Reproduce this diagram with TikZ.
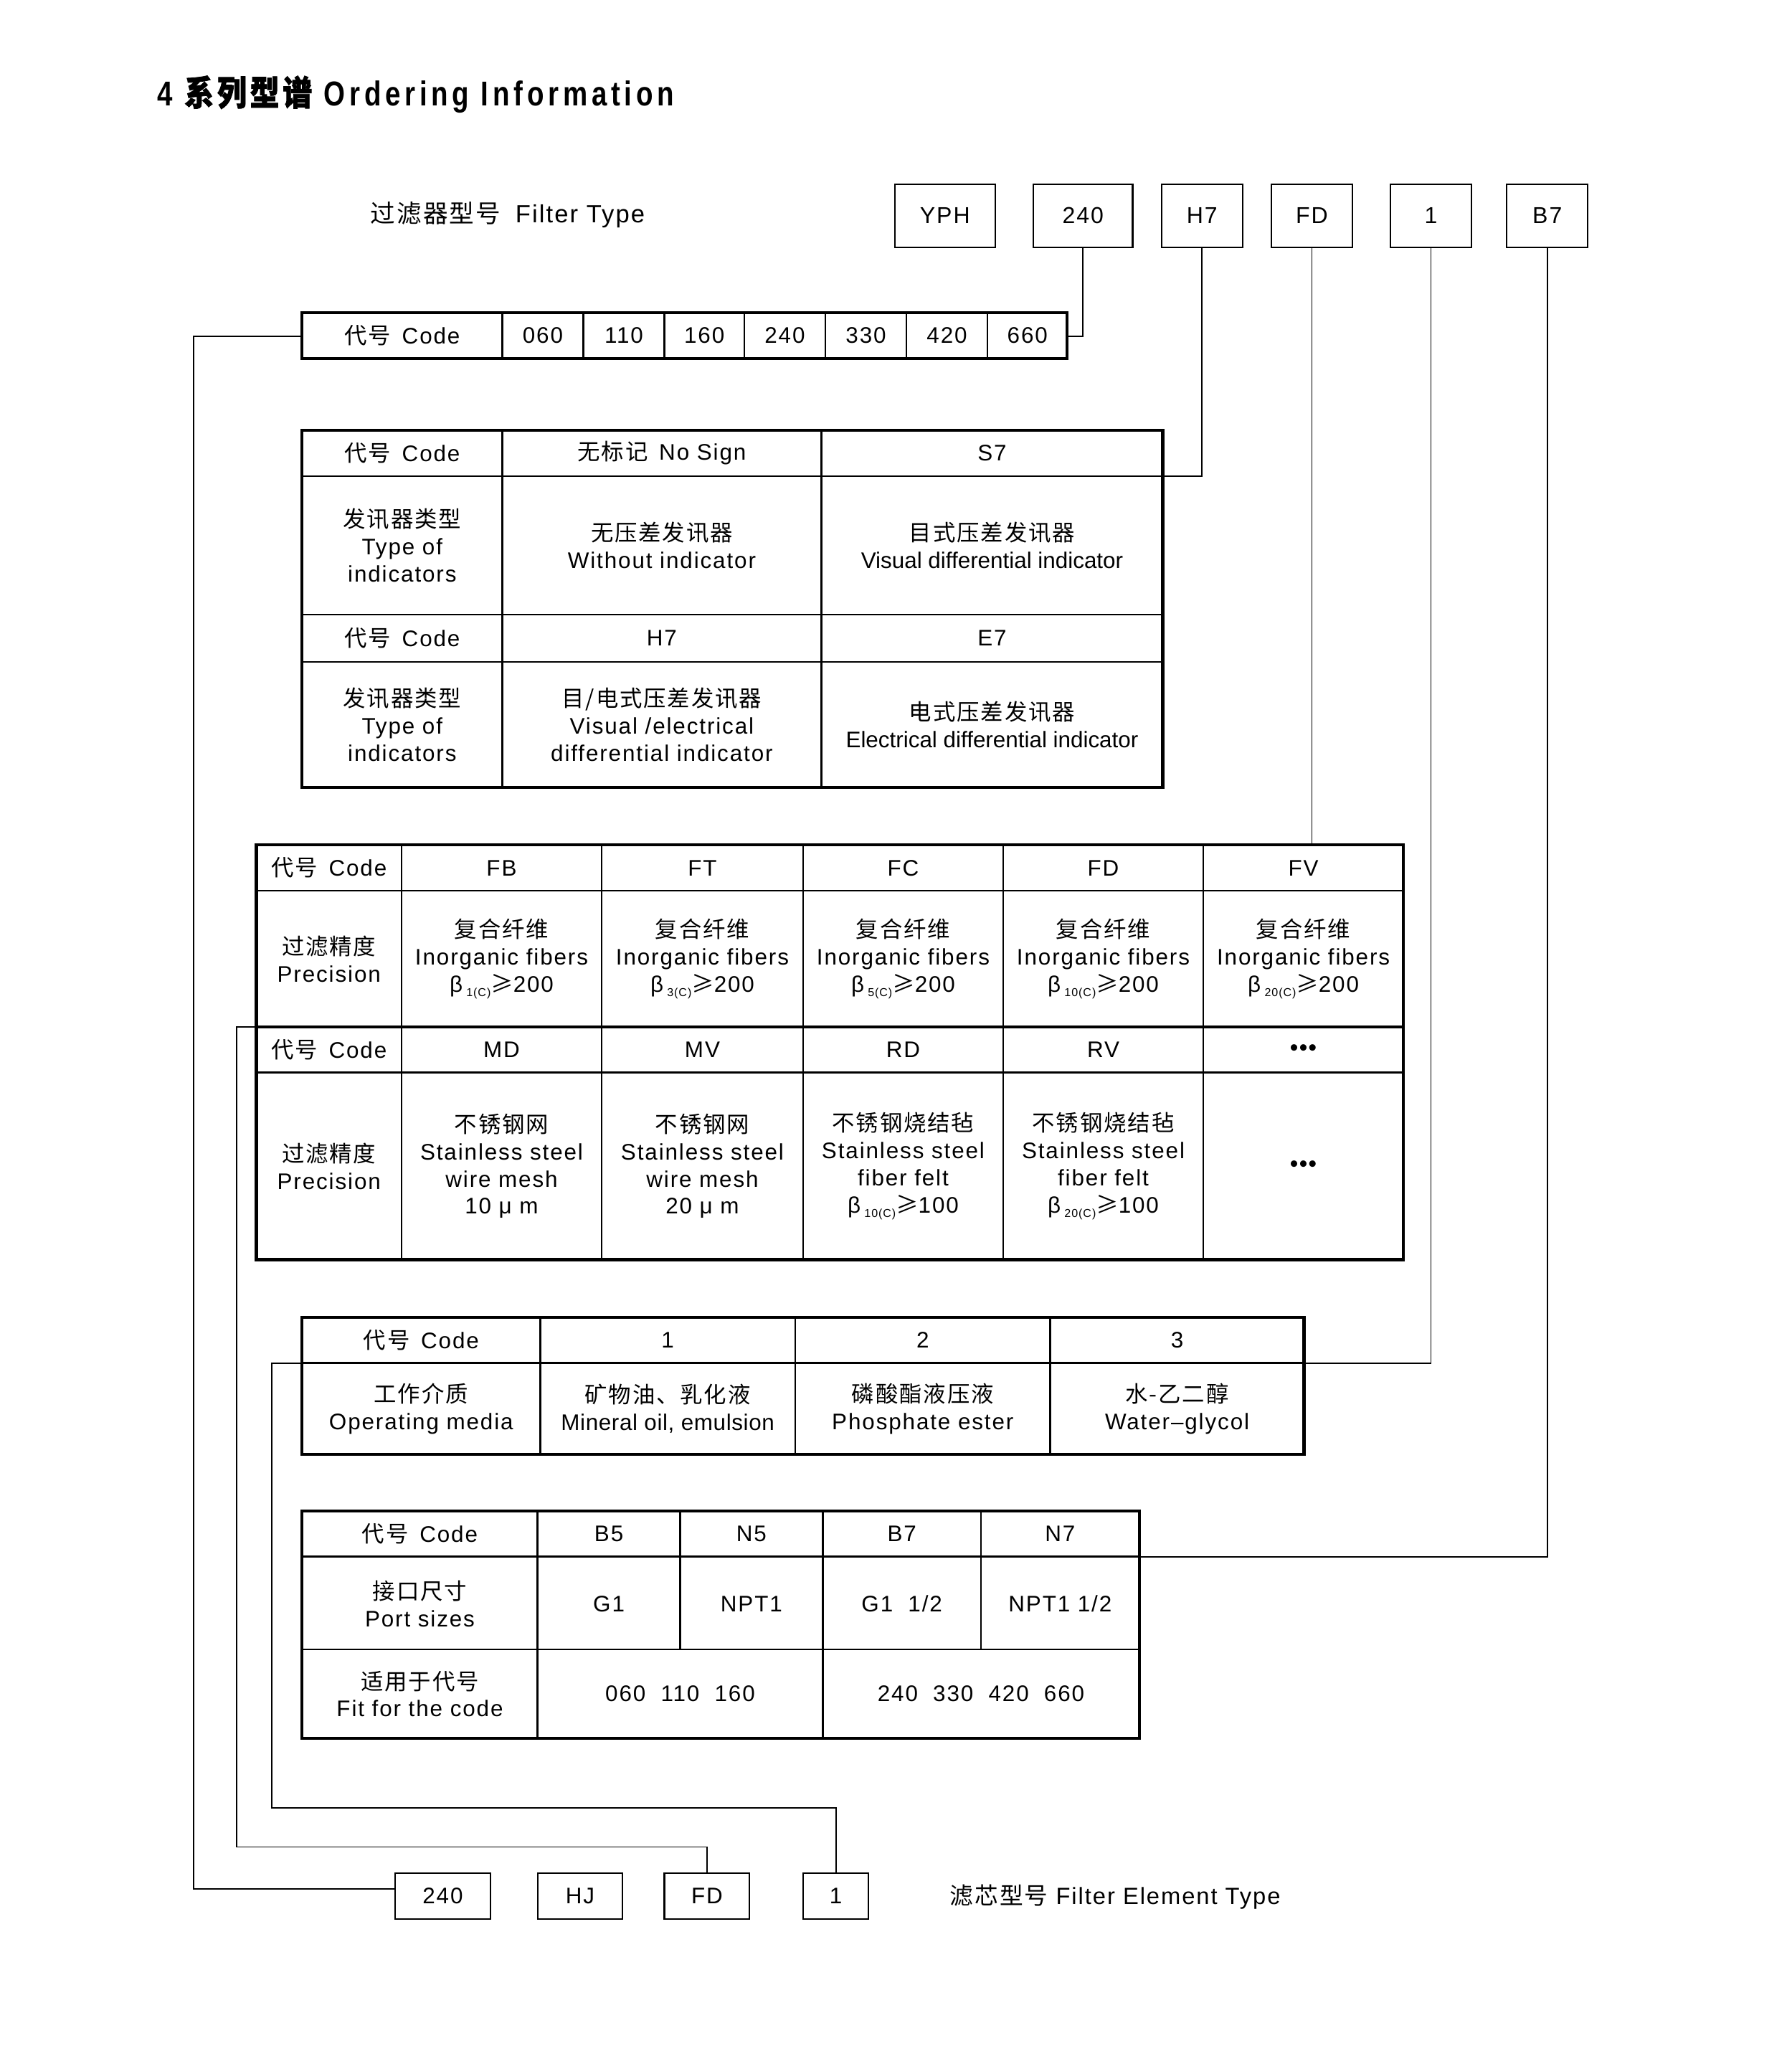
\documentclass[tikz,border=0pt]{standalone}
\usepackage{fontspec}
\setmainfont[LetterSpace=6]{Liberation Sans}
\newfontfamily\plainfont{Liberation Sans}
\newfontfamily\looseplain[LetterSpace=2]{Liberation Sans}
\newfontfamily\zhfont[LetterSpace=6]{Noto Sans CJK SC}
\newfontfamily\zhboldfont[FakeBold=1.6,FakeStretch=0.85,LetterSpace=10]{Noto Sans CJK SC}
\newfontfamily\titlefont[FakeStretch=0.8,LetterSpace=12]{Liberation Sans}
\newcommand{\zh}[1]{{\zhfont #1}}
\newcommand{\brate}[2]{β\,\raisebox{-0.4ex}{\fontsize{5}{6}\selectfont #1}{\zhfont ≥}#2}
\newcommand{\cellsize}{\fontsize{9.8}{11.8}\selectfont}
\newcommand{\codehead}{\zh{代号}\hspace{0.5em}Code}

\begin{document}
\begin{tikzpicture}[x=0.02cm, y=-0.02cm,
  frame/.style={line width=1.3pt},
  rule/.style={line width=0.75pt},
  link/.style={line width=0.6pt},
  cell/.style={align=center, inner sep=0pt, font=\cellsize},
  box/.style={draw, line width=0.7pt, inner sep=0pt, minimum height=0.96cm, font=\fontsize{10}{12}\selectfont},
  ebox/.style={draw, line width=0.7pt, inner sep=0pt, minimum height=0.7cm, font=\cellsize}]
\useasboundingbox (0,0) rectangle (1370,1568);

% heading and type line
\node[anchor=west, inner sep=0pt] (title) at (120,72) {\fontsize{15}{17}\selectfont\titlefont\bfseries 4 {\zhboldfont 系列型谱} Ordering Information};
\node[anchor=west, inner sep=0pt, font=\fontsize{10.8}{13}\selectfont] (ftype) at (283,164) {\zh{过滤器型号}\hspace{0.6em}Filter Type};

\node[box, minimum width=1.54cm] (fYPH) at (722.5,165) {YPH};
\node[box, minimum width=1.52cm] (f240) at (828,165) {240};
\node[box, minimum width=1.24cm] (fH7) at (919,165) {H7};
\node[box, minimum width=1.24cm] (fFD) at (1003,165) {FD};
\node[box, minimum width=1.24cm] (f1) at (1094,165) {1};
\node[box, minimum width=1.24cm] (fB7) at (1183,165) {B7};

% table 1: size code
\draw[frame] (231,239) rectangle (816,274);
\foreach \x in {384,446,508,569,631,693,755}
  \draw[rule] (\x,239) -- (\x,274);
\node[cell] (c1h) at (307.5,256.5) {\codehead};
\foreach \v/\x in {060/415,110/477,160/538.5,240/600,330/662,420/724,660/785.5}
  \node[cell] (c1v\v) at (\x,256.5) {\v};
\coordinate (t1w) at (231,257);
\coordinate (t1e) at (816,257);

% table 2: indicators
\draw[frame] (231,329) rectangle (889,602);
\foreach \x in {384,628}
  \draw[rule] (\x,329) -- (\x,602);
\foreach \y in {364,470,506}
  \draw[rule] (231,\y) -- (889,\y);
\node[cell] (c2h1) at (307.5,346.5) {\codehead};
\node[cell] (c2a1) at (506,346.5) {\zh{无标记}\hspace{0.5em}No Sign};
\node[cell] (c2b1) at (758.5,346.5) {S7};
\node[cell] (c2h2) at (307.5,417) {\zh{发讯器类型}\\Type of\\indicators};
\node[cell] (c2a2) at (506,417) {\zh{无压差发讯器}\\Without indicator};
\node[cell] (c2b2) at (758.5,417) {\zh{目式压差发讯器}\\{\plainfont Visual differential indicator}};
\node[cell] (c2h3) at (307.5,488) {\codehead};
\node[cell] (c2a3) at (506,488) {H7};
\node[cell] (c2b3) at (758.5,488) {E7};
\node[cell] (c2h4) at (307.5,554) {\zh{发讯器类型}\\Type of\\indicators};
\node[cell] (c2a4) at (506,554) {\zh{目/电式压差发讯器}\\Visual /electrical\\differential indicator};
\node[cell] (c2b4) at (758.5,554) {\zh{电式压差发讯器}\\{\plainfont Electrical differential indicator}};
\coordinate (t2e) at (889,364);

% table 3: filter material
\draw[frame] (196,646) rectangle (1073,963);
\foreach \x in {307,460,614,767,920}
  \draw[rule] (\x,646) -- (\x,963);
\foreach \y in {681,820}
  \draw[rule] (196,\y) -- (1073,\y);
\draw[frame] (196,785) -- (1073,785);
\node[cell] (c3h1) at (251.5,663.5) {\codehead};
\foreach \x/\c in {383.5/FB,537/FT,690.5/FC,843.5/FD,996.5/FV}
  \node[cell] (c3\c) at (\x,663.5) {\c};
\node[cell] (c3h2) at (251.5,733) {\zh{过滤精度}\\Precision};
\foreach \x/\s [count=\i] in {383.5/1(C),537/3(C),690.5/5(C),843.5/10(C),996.5/20(C)}
  \node[cell] (c3f\i) at (\x,733) {\zh{复合纤维}\\Inorganic fibers\\\brate{\s}{200}};
\node[cell] (c3h3) at (251.5,802.5) {\codehead};
\foreach \x/\c in {383.5/MD,537/MV,690.5/RD,843.5/RV}
  \node[cell] (c3\c) at (\x,802.5) {\c};
\node[cell] (c3more) at (996.5,802.5) {\bfseries •••};
\node[cell] (c3h4) at (251.5,891.5) {\zh{过滤精度}\\Precision};
\node[cell] (c3m1) at (383.5,891.5) {\zh{不锈钢网}\\Stainless steel\\wire mesh\\10 μ m};
\node[cell] (c3m2) at (537,891.5) {\zh{不锈钢网}\\Stainless steel\\wire mesh\\20 μ m};
\node[cell] (c3m3) at (690.5,891.5) {\zh{不锈钢烧结毡}\\Stainless steel\\fiber felt\\\brate{10(C)}{100}};
\node[cell] (c3m4) at (843.5,891.5) {\zh{不锈钢烧结毡}\\Stainless steel\\fiber felt\\\brate{20(C)}{100}};
\node[cell] (c3dots) at (996.5,891.5) {\bfseries •••};
\coordinate (t3w) at (196,785);
\coordinate (t3n) at (1003,646);

% table 4: media
\draw[frame] (231,1007) rectangle (997,1112);
\foreach \x in {413,608,803}
  \draw[rule] (\x,1007) -- (\x,1112);
\draw[rule] (231,1042) -- (997,1042);
\node[cell] (c4h1) at (322,1024.5) {\codehead};
\foreach \x/\c in {510.5/1,705.5/2,900/3}
  \node[cell] (c4n\c) at (\x,1024.5) {\c};
\node[cell] (c4h2) at (322,1077) {\zh{工作介质}\\Operating media};
\node[cell] (c4m1) at (510.5,1077) {\zh{矿物油、乳化液}\\{\looseplain Mineral oil, emulsion}};
\node[cell] (c4m2) at (705.5,1077) {\zh{磷酸酯液压液}\\Phosphate ester};
\node[cell] (c4m3) at (900,1077) {\zh{水-乙二醇}\\Water–glycol};
\coordinate (t4w) at (231,1042);
\coordinate (t4e) at (997,1042);

% table 5: ports
\draw[frame] (231,1155) rectangle (871,1329);
\foreach \x in {411,629}
  \draw[rule] (\x,1155) -- (\x,1329);
\foreach \x in {520,750}
  \draw[rule] (\x,1155) -- (\x,1261);
\foreach \y in {1190,1261}
  \draw[rule] (231,\y) -- (871,\y);
\node[cell] (c5h1) at (321,1172.5) {\codehead};
\foreach \x/\c in {465.5/B5,574.5/N5,689.5/B7,810.5/N7}
  \node[cell] (c5\c) at (\x,1172.5) {\c};
\node[cell] (c5h2) at (321,1226) {\zh{接口尺寸}\\Port sizes};
\node[cell] (c5p1) at (465.5,1226) {G1};
\node[cell] (c5p2) at (574.5,1226) {NPT1};
\node[cell] (c5p3) at (689.5,1226) {G1\ \ 1/2};
\node[cell] (c5p4) at (810.5,1226) {NPT1 1/2};
\node[cell] (c5h3) at (321,1295) {\zh{适用于代号}\\Fit for the code};
\node[cell] (c5s1) at (520,1295) {060\ \ 110\ \ 160};
\node[cell] (c5s2) at (750,1295) {240\ \ 330\ \ 420\ \ 660};
\coordinate (t5e) at (871,1190);

% element type line
\node[ebox, minimum width=1.46cm] (e240) at (338.5,1449.5) {240};
\node[ebox, minimum width=1.3cm] (eHJ) at (443.5,1449.5) {HJ};
\node[ebox, minimum width=1.3cm] (eFD) at (540.5,1449.5) {FD};
\node[ebox, minimum width=1.0cm] (e1) at (639,1449.5) {1};
\node[anchor=west, inner sep=0pt, font=\fontsize{10.2}{12}\selectfont] (etype) at (726,1450) {\zh{滤芯型号} Filter Element Type};
\coordinate (e240in) at ([yshift=0.11cm]e240.west);

% connectors
\draw[link] (f240.south) |- (t1e);
\draw[link] (fH7.south) |- (t2e);
\draw[link] (fFD.south) -- (t3n);
\draw[link] (f1.south) |- (t4e);
\draw[link] (fB7.south) |- (t5e);
\draw[link] (t1w) -- ++(-83,0) |- (e240in);
\draw[link] (t3w) -- ++(-15,0) -- ++(0,627) -| (eFD.north);
\draw[link] (t4w) -- ++(-23,0) -- ++(0,340) -| (e1.north);
\end{tikzpicture}
\end{document}
